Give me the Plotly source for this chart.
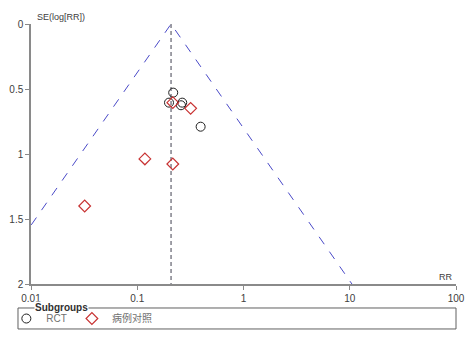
import math
import plotly.graph_objects as go

# Data
rct_rr = [0.218, 0.199, 0.265, 0.258, 0.395]
rct_se = [0.528, 0.605, 0.605, 0.625, 0.790]
cc_rr = [0.216, 0.318, 0.118, 0.216, 0.032]
cc_se = [0.605, 0.649, 1.038, 1.077, 1.400]
pooled_rr = 0.208
se_max = 2.0
x_ticks = [0.01, 0.1, 1, 10, 100]
x_tick_labels = ["0.01", "0.1", "1", "10", "100"]
y_ticks = [0, 0.5, 1, 1.5, 2]
y_tick_labels = ["0", "0.5", "1", "1.5", "2"]

FONT = "Liberation Sans, Arial, Noto Sans CJK SC, sans-serif"
AX = "#8a8a8a"
TXT = "#404040"

fig = go.Figure()

# funnel (pseudo 95% CI) lines
z = 1.96
lo = pooled_rr * math.exp(-z * se_max)
hi = pooled_rr * math.exp(z * se_max)
fig.add_trace(go.Scatter(x=[lo, pooled_rr, hi], y=[se_max, 0, se_max], mode="lines",
                         line=dict(color="#4a4ac8", width=1, dash="dash"),
                         showlegend=False, hoverinfo="skip"))
fig.add_trace(go.Scatter(x=[pooled_rr, pooled_rr], y=[0, se_max], mode="lines",
                         line=dict(color="#404050", width=1, dash="4px,3px"),
                         showlegend=False, hoverinfo="skip"))

fig.add_trace(go.Scatter(x=rct_rr, y=rct_se, mode="markers", name="RCT",
                         marker=dict(symbol="circle-open", size=9,
                                     line=dict(color="#202020", width=1), color="#202020")))
fig.add_trace(go.Scatter(x=cc_rr, y=cc_se, mode="markers", name="病例对照",
                         marker=dict(symbol="diamond-open", size=9,
                                     line=dict(color="#c83232", width=1.2), color="#c83232")))

fig.update_xaxes(type="log", range=[-2, 2], tickvals=x_ticks, ticktext=x_tick_labels,
                 showgrid=False, zeroline=False, showline=True, linecolor=AX, linewidth=1.5,
                 ticks="outside", ticklen=4, tickcolor=AX, tickwidth=1,
                 tickfont=dict(size=10, color=TXT, family=FONT))
fig.update_yaxes(range=[2, 0], tickvals=y_ticks, ticktext=y_tick_labels,
                 showgrid=False, zeroline=False, showline=True, linecolor=AX, linewidth=1.5,
                 ticks="outside", ticklen=4, tickcolor=AX, tickwidth=1,
                 tickfont=dict(size=10, color=TXT, family=FONT))

# legend box
fig.add_shape(type="rect", xref="paper", yref="paper", x0=-0.0306, x1=1.0, y0=-0.173, y1=-0.0923,
              line=dict(color="#606060", width=1), fillcolor="rgba(0,0,0,0)")

fig.add_annotation(text="<b>Subgroups</b>", xref="paper", yref="paper", x=0.008, y=-0.0923,
                   xanchor="left", yanchor="middle", showarrow=False, bgcolor="white",
                   font=dict(size=10, color="#303030", family=FONT), borderpad=0)
fig.add_annotation(text="SE(log[RR])", xref="paper", yref="paper", x=0.01, y=1.0,
                   xanchor="left", yanchor="bottom", showarrow=False,
                   font=dict(size=9, color=TXT, family=FONT))
fig.add_annotation(text="RR", xref="paper", yref="paper", x=0.998, y=0.0,
                   xanchor="right", yanchor="bottom", showarrow=False,
                   font=dict(size=9, color=TXT, family=FONT))

fig.update_layout(
    width=473, height=337,
    margin=dict(l=31, r=17, t=24, b=53, autoexpand=False),
    paper_bgcolor="white", plot_bgcolor="white",
    font=dict(family=FONT, size=10, color=TXT),
    showlegend=True,
    legend=dict(orientation="h", x=-0.058, y=-0.077, xanchor="left", yanchor="top",
                bgcolor="rgba(0,0,0,0)", borderwidth=0, itemwidth=30,
                font=dict(size=10, color="#707070", family=FONT),
                tracegroupgap=0),
)

fig.write_html("out.html")
